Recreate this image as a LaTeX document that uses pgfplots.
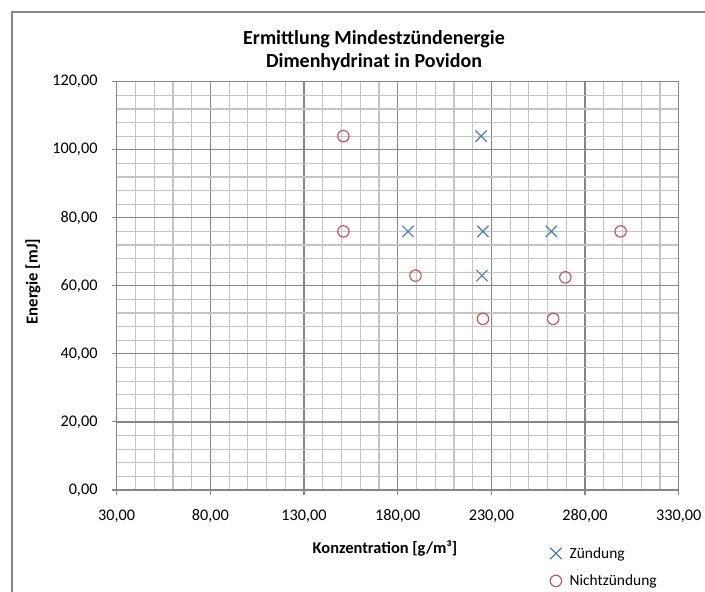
\documentclass[border=0pt]{standalone}
\usepackage{fontspec}
\setmainfont{Carlito}
\usepackage{pgfplots}
\pgfplotsset{compat=1.18}
\definecolor{zblue}{HTML}{4A7EBB}
\definecolor{nred}{HTML}{C0504D}
\definecolor{majgrid}{HTML}{868686}
\definecolor{mingrid}{HTML}{C4C4C4}
\begin{document}
\begin{tikzpicture}
\useasboundingbox (0bp,0bp) rectangle (705bp,592bp);
\draw[color=majgrid, line width=2bp] (12bp,-20bp) -- (12bp,580bp) -- (740bp,580bp);
\begin{axis}[
  at={(116.7bp,102bp)}, anchor=south west,
  scale only axis, width=562bp, height=408.3bp,
  xmin=30, xmax=330, ymin=0, ymax=120,
  xtick={30,80,...,330}, ytick={0,20,...,120},
  minor x tick num=4, minor y tick num=4,
  grid=both,
  major grid style={draw=majgrid, line width=1.2bp},
  minor grid style={draw=mingrid, line width=1.2bp},
  axis line style={draw=majgrid, line width=1.5bp},
  tick align=outside, tickpos=left,
  major tick length=5bp, minor tick length=0pt,
  every tick/.style={draw=majgrid, line width=1.1bp},
  /pgf/number format/.cd, fixed, fixed zerofill, precision=2, use comma, 1000 sep={}, assume math mode=true,
  /pgfplots/.cd,
  ticklabel style={font=\fontsize{16.3}{19}\selectfont, inner sep=0pt},
  xticklabel style={anchor=base, yshift=-25bp},
  yticklabel style={anchor=east, xshift=-14bp},
  every axis title shift=0pt,
  title={Ermittlung Mindestzündenergie\\Dimenhydrinat in Povidon},
  title style={font=\bfseries\fontsize{20}{23.4}\selectfont, align=center, inner sep=0pt,
    at={(rel axis cs:0.4578,1.0343)}, anchor=base},
  xlabel={Konzentration [g/m³]},
  xlabel style={font=\bfseries\fontsize{16.5}{19}\selectfont, inner sep=0pt,
    at={(rel axis cs:0.4774,-0.1543)}, anchor=base},
  ylabel={Energie [mJ]},
  ylabel style={font=\bfseries\fontsize{16.8}{19}\selectfont, inner sep=0pt,
    at={(rel axis cs:-0.1409,0.51)}, anchor=base},
  legend style={at={(rel axis cs:0.771,-0.135)}, anchor=north west, draw=none, fill=none,
    font=\fontsize{15.5}{18}\selectfont, inner sep=0pt, row sep=11.3bp,
    /tikz/every odd column/.append style={column sep=6bp}},
  legend cell align=left,
]
\addplot[only marks, mark=x, mark size=8bp, draw=zblue, line width=1.2bp]
  coordinates {(224.5,104) (185.5,76) (225.5,76) (262,76) (225,63)};
\addlegendentry{Zündung}
\addplot[only marks, mark=o, mark size=5.7bp, draw=nred, line width=1.1bp]
  coordinates {(151,104) (151,76) (299,76) (189.5,63) (269.5,62.5) (225.5,50.3) (263,50.3)};
\addlegendentry{Nichtzündung}
\end{axis}
\end{tikzpicture}
\end{document}
